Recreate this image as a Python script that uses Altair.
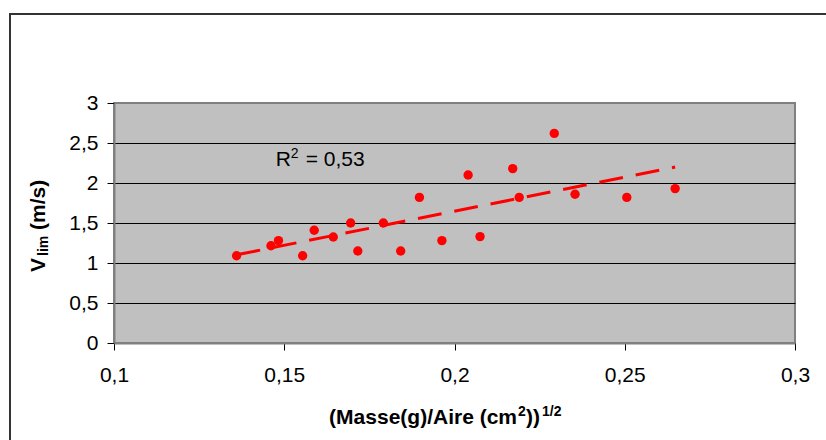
import altair as alt
import pandas as pd

# ---- data ----
x_vals = [0.136, 0.1461, 0.1483, 0.1554, 0.1588, 0.1644, 0.1695, 0.1716, 0.1791, 0.1842,
          0.1897, 0.1963, 0.204, 0.2075, 0.2171, 0.219, 0.2293, 0.2354, 0.2506, 0.2648]
y_vals = [1.09, 1.216, 1.28, 1.09, 1.41, 1.325, 1.50, 1.15, 1.50, 1.15,
          1.82, 1.28, 2.10, 1.33, 2.18, 1.82, 2.62, 1.86, 1.82, 1.93]
x_ticks = [0.1, 0.15, 0.2, 0.25, 0.3]
y_ticks = [0, 0.5, 1, 1.5, 2, 2.5, 3]
r2_parts = ["R", "2", "= 0,53"]
r2_pos = {"x": 0.1475, "y": 2.215}

FONT = "Liberation Sans"
RED = "#FF0000"

df = pd.DataFrame({"x": x_vals, "y": y_vals})
xs = alt.Scale(domain=[0.1, 0.3], nice=False, zero=False)
ys = alt.Scale(domain=[0, 3], nice=False, zero=False)

x_axis = alt.Axis(values=x_ticks, title=None, grid=False,
                  labelExpr="replace(format(datum.value, '.2~f'), '.', ',')",
                  labelFlush=False, labelOverlap=False, labelFont=FONT, labelFontSize=21,
                  labelColor="black", labelPadding=14, tickSize=7, tickColor="black",
                  domainColor="#808080", domainWidth=2)
y_axis = alt.Axis(values=y_ticks, tickCount=7, title=None, grid=True,
                  gridColor={"condition": {"test": "datum.value == 3", "value": "#808080"}, "value": "black"},
                  gridWidth=1,
                  labelExpr="replace(format(datum.value, '.1~f'), '.', ',')",
                  labelOverlap=False, labelFont=FONT, labelFontSize=21, labelColor="black",
                  labelPadding=9, tickSize=7, tickColor="black",
                  domainColor="#808080", domainWidth=2)

X = alt.X("x:Q", scale=xs, axis=x_axis)
Y = alt.Y("y:Q", scale=ys, axis=y_axis)

base = alt.Chart(df)

points = base.mark_circle(size=88, color=RED, opacity=1).encode(x=X, y=Y)

trend = base.transform_regression("x", "y").mark_line(
    color=RED, strokeWidth=3, strokeDash=[24, 13]
).encode(x=X, y=Y)

r2_df = pd.DataFrame([{"x": r2_pos["x"], "y": r2_pos["y"]}])

def r2_piece(s, dx, dy, size):
    return alt.Chart(r2_df).mark_text(
        text=s, align="left", baseline="alphabetic", font=FONT, fontSize=size,
        color="black", dx=dx, dy=dy
    ).encode(x=X, y=Y)

r2 = [
    r2_piece(r2_parts[0], 0, 0, 21),
    r2_piece(r2_parts[1], 15, -8, 14),
    r2_piece(r2_parts[2], 30, 0, 21),
]

one = alt.Data(values=[{}])

frame = alt.Chart(one).mark_rect(fill=None, fillOpacity=0, stroke="#333333", strokeWidth=2).encode(
    x=alt.value(-104), x2=alt.value(900), y=alt.value(-89), y2=alt.value(600)
)

def txt(s, x, y, size, angle=0, align="left", bold=True):
    return alt.Chart(one).mark_text(
        text=s, align=align, baseline="alphabetic", font=FONT, fontSize=size,
        fontWeight="bold" if bold else "normal", angle=angle, color="black"
    ).encode(x=alt.value(x), y=alt.value(y))

y_title = [
    txt("V", -69, 169, 21, angle=270),
    txt("lim", -66, 153, 14, angle=270),
    txt("(m/s)", -69, 127, 21, angle=270),
]
x_title = [
    txt("(Masse(g)/Aire (cm", 403, 321, 21, align="right"),
    txt("2", 404, 313, 14),
    txt("))", 412, 321, 21),
    txt("1/2", 428, 313, 14),
]

chart = alt.layer(frame, points, trend, *r2, *y_title, *x_title).properties(
    width=681, height=240,
    padding={"left": 114, "top": 103, "right": 31, "bottom": 97},
    autosize=alt.AutoSizeParams(type="none"),
    background="white",
).configure_view(fill="#C0C0C0", stroke="#808080", strokeWidth=2)

chart.save("out.html", embed_options={"renderer": "svg", "actions": False})
